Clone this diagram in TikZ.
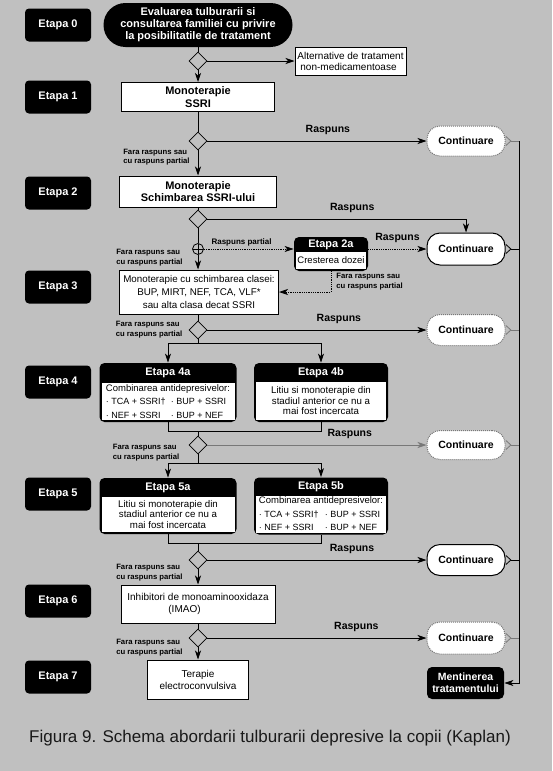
\documentclass[tikz,border=0pt]{standalone}
\usepackage{fontspec}
\setmainfont{Liberation Sans}
\usepackage{tikz}
\usetikzlibrary{calc}
\usetikzlibrary{shapes}
\usetikzlibrary{arrows.meta}
\usetikzlibrary{positioning}

\definecolor{bggray}{RGB}{192,192,192}
\definecolor{fadegray}{RGB}{120,120,120}

\newcommand{\etapafont}{\fontsize{11}{12.5}\selectfont\bfseries}
\newcommand{\raspfont}{\fontsize{10.5}{12}\selectfont\bfseries}
\newcommand{\notafont}{\fontsize{7.7}{9.8}\selectfont\bfseries}
\newcommand{\casetfont}{\fontsize{9.7}{10.5}\selectfont}
\newcommand{\listafont}{\fontsize{9.5}{13.5}\selectfont}
\newcommand{\rowfont}{\fontsize{9}{13.5}\selectfont}

\begin{document}
\begin{tikzpicture}[x=1pt, y=-1pt, >={Stealth[length=9pt,width=6pt,inset=2.5pt]}, line width=0.8pt,
  stagelabel/.style={fill=black, text=white, rounded corners=4pt, minimum width=66, minimum height=33, font=\etapafont},
  stepbox/.style={draw, fill=white, line width=1pt, align=center, inner sep=1pt},
  decision/.style={diamond, draw, minimum width=18, minimum height=18, inner sep=0pt},
  splitnode/.style={circle, draw, minimum size=11, inner sep=0pt,
    path picture={\draw (path picture bounding box.north) -- (path picture bounding box.south)
      (path picture bounding box.west) -- (path picture bounding box.east);}},
  contbox/.style={draw, fill=white, line width=1pt, rounded corners=13pt, minimum width=78, minimum height=31, font=\raspfont},
  fadebox/.style={contbox, draw=fadegray, densely dotted},
  subframe/.style={fill=black, rounded corners=5pt, inner sep=0pt},
  subtitle/.style={text=white, font=\etapafont, inner sep=0pt},
  subbody/.style={fill=white, inner sep=0pt},
  answer/.style={font=\raspfont, above=5pt, inner sep=1pt},
  noanswer/.style={font=\notafont, align=left, inner sep=1pt},
  tailline/.style={arrows={{Straight Barb[reversed,length=5pt,width=9pt]}-}},
]
\fill[bggray] (0,0) rectangle (552,771);
\useasboundingbox (0,0) rectangle (552,771);

% stages on the left
\node[name=etapa_0, stagelabel] at (58,25) {Etapa 0};
\node[name=etapa_1, stagelabel] at (58,97) {Etapa 1};
\node[name=etapa_2, stagelabel] at (58,193) {Etapa 2};
\node[name=etapa_3, stagelabel] at (58,287) {Etapa 3};
\node[name=etapa_4, stagelabel] at (58,382) {Etapa 4};
\node[name=etapa_5, stagelabel] at (58,494) {Etapa 5};
\node[name=etapa_6, stagelabel] at (58,601) {Etapa 6};
\node[name=etapa_7, stagelabel] at (58,677) {Etapa 7};

% main column
\node[name=eval, fill=black, text=white, rounded corners=22pt, minimum width=189, minimum height=44, inner sep=0pt, align=center, font=\fontsize{11}{12}\selectfont\bfseries] at (198,25) {Evaluarea tulburarii si\\consultarea familiei cu privire\\la posibilitatile de tratament};
\node[name=dec_0, decision] at (198,61) {};
\node[name=alt, stepbox, minimum width=111, minimum height=28, align=left, font=\fontsize{10}{11}\selectfont] at (350.5,61) {Alternative de tratament\\\hspace*{3pt}non-medicamentoase};
\node[name=mono_1, stepbox, minimum width=153, minimum height=29, font=\etapafont] at (198,97) {Monoterapie\\SSRI};
\node[name=dec_1, decision] at (198,141) {};
\node[name=mono_2, stepbox, minimum width=157, minimum height=31, font=\etapafont] at (198,191.5) {Monoterapie\\Schimbarea SSRI-ului};
\node[name=dec_2, decision] at (198,219) {};
\node[name=split, splitnode] at (198,249) {};
\node[name=mono_3, stepbox, minimum width=159, minimum height=44, font=\fontsize{9.8}{13}\selectfont] at (199,292) {Monoterapie cu schimbarea clasei:\\BUP, MIRT, NEF, TCA, VLF*\\sau alta clasa decat SSRI};
\node[name=dec_3, decision] at (198,330) {};
\node[name=dec_4, decision] at (198,445) {};
\node[name=dec_5, decision] at (198,560) {};
\node[name=imao, stepbox, minimum width=154, minimum height=38, align=left, font=\fontsize{10}{11.5}\selectfont] at (198,604) {Inhibitori de monoaminooxidaza\\\hspace*{41pt}(IMAO)};
\node[name=dec_6, decision] at (198,638) {};
\node[name=ect, stepbox, minimum width=101, minimum height=39, font=\fontsize{10}{12}\selectfont] at (198,679.5) {Terapie\\electroconvulsiva};

% etapa 2a
\node[name=etapa_2a, subframe, minimum width=74, minimum height=34] at (331,254) {};
\node[name=etapa_2a_title, subtitle, below=3pt of etapa_2a.north] {Etapa 2a};
\node[name=etapa_2a_body, subbody, minimum width=70, minimum height=17, above=2pt of etapa_2a.south, font=\fontsize{9.5}{11}\selectfont] {Cresterea dozei};

% etapa 4a, 4b
\node[name=etapa_4a, subframe, minimum width=137, minimum height=59] at (168,392.5) {};
\node[name=etapa_4a_title, subtitle, below=4.5pt of etapa_4a.north] {Etapa 4a};
\node[name=etapa_4a_body, subbody, minimum width=133, minimum height=37, above=2pt of etapa_4a.south, align=left, font=\listafont] {Combinarea antidepresivelor:\\{\rowfont\makebox[65pt][l]{· TCA + SSRI†}· BUP + SSRI}\\{\rowfont\makebox[65pt][l]{· NEF + SSRI}· BUP + NEF}};
\node[name=etapa_4b, subframe, minimum width=134, minimum height=59] at (321,392.5) {};
\node[name=etapa_4b_title, subtitle, below=4.5pt of etapa_4b.north] {Etapa 4b};
\node[name=etapa_4b_body, subbody, minimum width=130, minimum height=38, above=2pt of etapa_4b.south, align=center, font=\casetfont] {Litiu si monoterapie din\\stadiul anterior ce nu a\\mai fost incercata};

% etapa 5a, 5b
\node[name=etapa_5a, subframe, minimum width=137, minimum height=56] at (168,506) {};
\node[name=etapa_5a_title, subtitle, below=4.5pt of etapa_5a.north] {Etapa 5a};
\node[name=etapa_5a_body, subbody, minimum width=133, minimum height=35, above=2pt of etapa_5a.south, align=center, font=\casetfont] {Litiu si monoterapie din\\stadiul anterior ce nu a\\mai fost incercata};
\node[name=etapa_5b, subframe, minimum width=134, minimum height=57] at (321,506) {};
\node[name=etapa_5b_title, subtitle, below=4pt of etapa_5b.north] {Etapa 5b};
\node[name=etapa_5b_body, subbody, minimum width=130, minimum height=37, above=2pt of etapa_5b.south, align=left, font=\listafont] {Combinarea antidepresivelor:\\{\rowfont\makebox[66pt][l]{· TCA + SSRI†}· BUP + SSRI}\\{\rowfont\makebox[66pt][l]{· NEF + SSRI}· BUP + NEF}};

% outcomes on the right
\node[name=cont_1, fadebox, minimum height=30] at (466,141) {Continuare};
\node[name=cont_2, contbox, minimum height=32] at (466,249) {Continuare};
\node[name=cont_3, fadebox] at (466,330) {Continuare};
\node[name=cont_4, fadebox, minimum height=29] at (466,445) {Continuare};
\node[name=cont_5, contbox] at (466,560) {Continuare};
\node[name=cont_6, fadebox, minimum height=32] at (466,638) {Continuare};
\node[name=keep, fill=black, text=white, rounded corners=5pt, minimum width=77, minimum height=32, inner sep=0pt, align=center, font=\fontsize{10.5}{12}\selectfont\bfseries] at (465.5,683) {Mentinerea\\tratamentului};

\node[name=lbl_3, noanswer, left=5pt of dec_3] {Fara raspuns sau\\cu raspuns partial};
\node[name=lbl_4, noanswer, left=8pt of dec_4, yshift=-8pt] {Fara raspuns sau\\cu raspuns partial};

\coordinate (fork_3) at (198,343);
\coordinate (merge_4) at (198,431);
\coordinate (fork_4) at (198,463);
\coordinate (merge_5) at (198,543);
\coordinate (bus_top) at (519,141);

\draw (eval.south) -- (dec_0.north);
\draw(dec_0.south) edge[->] (mono_1.north);
\draw(dec_0.east) edge[->] (alt.west);
\draw (mono_1.south) -- (dec_1.north);
\draw(dec_1.south) edge[->] node[name=lbl_1, noanswer, left=7pt, pos=0.27] {Fara raspuns sau\\cu raspuns partial} (mono_2.north);
\draw(dec_1.east) edge[->] node[name=ans_1, answer, pos=0.55] {Raspuns} (cont_1.west);
\draw (mono_2.south) -- (dec_2.north);
\draw[->] (dec_2.east) -| node[name=ans_2, answer, pos=0.28] {Raspuns} (cont_2.north);
\draw (dec_2.south) -- (split.north);
\draw(split.south) edge[->] node[name=lbl_2, noanswer, left=14pt, pos=0.19] {Fara raspuns sau\\cu raspuns partial} (split.south |- mono_3.north);
\draw[->, densely dotted] (split.east) -- node[name=ans_2p, answer, above=1.5pt, font=\fontsize{8}{9}\selectfont\bfseries, pos=0.42] {Raspuns partial} (split.east -| etapa_2a.west);
\draw[->, densely dotted] (cont_2.west -| etapa_2a.east) -- node[name=ans_2a, answer, pos=0.5] {Raspuns} (cont_2.west);
\draw[->, densely dotted] (etapa_2a.south) |- node[name=lbl_2a, noanswer, right=4pt, pos=0.25] {Fara raspuns sau\\cu raspuns partial} (mono_3.east);
\draw (mono_3.south -| dec_3.north) -- (dec_3.north);
\draw(dec_3.east) edge[->] node[name=ans_3, answer, pos=0.6] {Raspuns} (cont_3.west);
\draw (dec_3.south) -- (fork_3);
\draw[->] (fork_3) -| (etapa_4a.north);
\draw[->] (fork_3) -| (etapa_4b.north);
\draw (etapa_4a.south) |- (merge_4);
\draw (etapa_4b.south) |- (merge_4);
\draw (merge_4) -- (dec_4.north);
\draw(dec_4.east) edge[->, fadegray] node[name=ans_4, answer, text=black, pos=0.65] {Raspuns} (cont_4.west);
\draw (dec_4.south) -- (fork_4);
\draw[->] (fork_4) -| (etapa_5a.north);
\draw[->] (fork_4) -| (etapa_5b.north);
\draw (etapa_5a.south) |- (merge_5);
\draw (etapa_5b.south) |- (merge_5);
\draw (merge_5) -- (dec_5.north);
\draw(dec_5.east) edge[->] node[name=ans_5, answer, pos=0.66] {Raspuns} (cont_5.west);
\draw(dec_5.south) edge[->] node[name=lbl_5, noanswer, left=14pt, pos=0.19] {Fara raspuns sau\\cu raspuns partial} (imao.north);
\draw (imao.south) -- (dec_6.north);
\draw(dec_6.south) edge[->] node[name=lbl_6, noanswer, left=14pt, pos=0.04] {Fara raspuns sau\\cu raspuns partial} (ect.north);
\draw(dec_6.east) edge[->] node[name=ans_6, answer, pos=0.68] {Raspuns} (cont_6.west);

% tails into the bus
\draw[tailline, fadegray] (cont_1.east) -- (cont_1.east -| bus_top);
\draw[tailline] (cont_2.east) -- (cont_2.east -| bus_top);
\draw[tailline, fadegray] (cont_3.east) -- (cont_3.east -| bus_top);
\draw[tailline, fadegray] (cont_4.east) -- (cont_4.east -| bus_top);
\draw[tailline] (cont_5.east) -- (cont_5.east -| bus_top);
\draw[tailline, fadegray] (cont_6.east) -- (cont_6.east -| bus_top);
\draw[->] (bus_top) |- (keep.east);

\node[name=caption, font=\fontsize{17}{20}\selectfont, text=black!90] at (270,738) {Figura 9. Schema abordarii tulburarii depresive la copii (Kaplan)};
\end{tikzpicture}
\end{document}
